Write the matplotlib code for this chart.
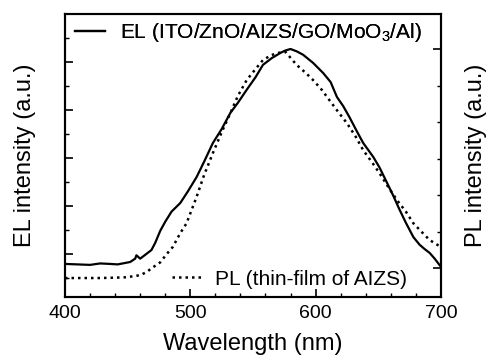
import matplotlib
matplotlib.use('Agg')
from matplotlib import pyplot as plt
from matplotlib.ticker import MultipleLocator, NullFormatter

# EL spectrum (ITO/ZnO/AIZS/GO/MoO3/Al), left axis, a.u.
el_wl = [400, 410, 420, 428, 436, 442, 448, 452, 456, 457, 460, 465, 469, 472, 476, 480,
         485, 492, 498, 505, 511, 518, 525, 532, 538, 545, 552, 558, 565, 572, 576, 580,
         585, 590, 598, 606, 612, 617, 622, 627, 633, 638, 646, 651, 657, 662, 667, 672,
         678, 683, 687, 691, 695, 700]
el_int = [0.79, 0.78, 0.77, 0.80, 0.79, 0.78, 0.81, 0.83, 0.90, 0.97, 0.90, 1.00, 1.08, 1.23, 1.48, 1.67,
          1.88, 2.06, 2.30, 2.60, 2.92, 3.31, 3.60, 3.94, 4.15, 4.42, 4.68, 4.94, 5.08, 5.19, 5.24, 5.27,
          5.22, 5.15, 4.98, 4.77, 4.58, 4.27, 4.08, 3.85, 3.55, 3.31, 3.02, 2.80, 2.48, 2.21, 1.92, 1.65,
          1.35, 1.19, 1.10, 1.02, 0.90, 0.73]

# PL spectrum (thin-film of AIZS), right axis, a.u.
pl_wl = [400, 415, 428, 440, 448, 455, 460, 465, 470, 476, 481, 486, 492, 497, 505, 511,
         518, 525, 532, 538, 545, 552, 558, 564, 569, 576, 585, 592, 598, 605, 611, 618,
         625, 632, 638, 645, 651, 658, 665, 672, 678, 685, 691, 700]
pl_int = [-0.27, -0.27, -0.27, -0.26, -0.25, -0.22, -0.19, -0.11, 0.02, 0.16, 0.38, 0.58, 0.96, 1.23, 1.95, 2.55,
          3.15, 3.72, 4.25, 4.72, 5.15, 5.45, 5.70, 5.82, 5.89, 5.92, 5.56, 5.35, 5.15, 4.88, 4.60, 4.28,
          3.97, 3.60, 3.23, 2.90, 2.60, 2.22, 1.86, 1.55, 1.23, 0.98, 0.77, 0.58]

plt.rcParams['font.family'] = ['Liberation Sans', 'DejaVu Sans']
plt.rcParams['mathtext.fontset'] = 'custom'
plt.rcParams['mathtext.rm'] = 'Liberation Sans'

fig = plt.figure(figsize=(4.91, 3.64), dpi=100)
ax = fig.add_axes([0.1324, 0.184, 0.7656, 0.7776])
ax2 = ax.twinx()

l1, = ax.plot(el_wl, el_int, '-', color='black', lw=1.6, label='EL (ITO/ZnO/AIZS/GO/MoO$_3$/Al)')
l2, = ax2.plot(pl_wl, pl_int, color='black', lw=1.8, linestyle=(0, (1, 1.6)),
               label='PL (thin-film of AIZS)')

ax.set_xlim(400, 700)
ax.set_ylim(0.1, 6.0)
ax2.set_ylim(-0.79, 6.96)

ax.xaxis.set_major_locator(MultipleLocator(100))
ax.xaxis.set_minor_locator(MultipleLocator(20))
ax.yaxis.set_major_locator(MultipleLocator(1))
ax.yaxis.set_minor_locator(MultipleLocator(0.5))
ax2.yaxis.set_major_locator(MultipleLocator(6))
ax2.yaxis.set_minor_locator(MultipleLocator(1))
ax.yaxis.set_major_formatter(NullFormatter())
ax2.yaxis.set_major_formatter(NullFormatter())

ax.tick_params(axis='x', which='both', direction='in', top=False, labelsize=14, pad=6)
ax.tick_params(axis='x', which='major', length=6, width=1.2)
ax.tick_params(axis='x', which='minor', length=3, width=1.0)
ax.tick_params(axis='y', which='major', direction='in', length=6, width=1.2)
ax.tick_params(axis='y', which='minor', direction='in', length=3, width=1.0)
ax2.tick_params(axis='y', which='major', direction='in', length=6, width=1.2)
ax2.tick_params(axis='y', which='minor', direction='in', length=3, width=1.0)

for a in (ax, ax2):
    for s in a.spines.values():
        s.set_linewidth(1.5)

ax.set_xlabel('Wavelength (nm)', fontsize=17, labelpad=8)
ax.set_ylabel('EL intensity (a.u.)', fontsize=17)
ax2.set_ylabel('PL intensity (a.u.)', fontsize=17, labelpad=14)
ax.yaxis.set_label_coords(-0.077, 0.5)

leg1 = ax.legend(handles=[l1], loc='upper left', bbox_to_anchor=(0.027, 0.975), frameon=False,
                 fontsize=15, handlelength=1.45, handletextpad=0.7, borderpad=0, borderaxespad=0)
ax.add_artist(leg1)
ax2.legend(handles=[l2], loc='lower left', bbox_to_anchor=(0.285, 0.03), frameon=False,
           fontsize=15, handlelength=1.45, handletextpad=0.6, borderpad=0, borderaxespad=0)

plt.savefig('out.png', dpi=100)
